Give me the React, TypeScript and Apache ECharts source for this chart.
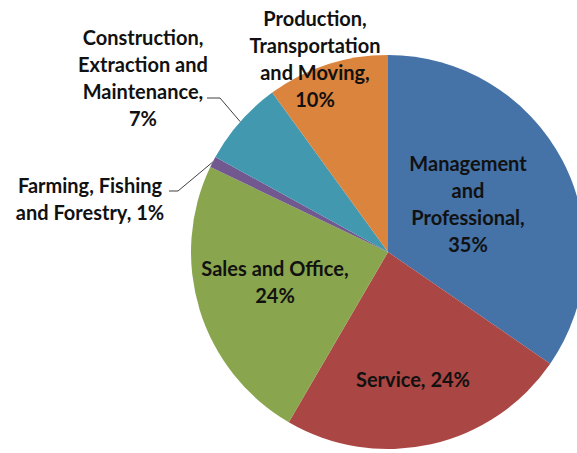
import React, { useEffect, useRef } from "react";
import * as echarts from "echarts";

const categories = [
  "Management\nand\nProfessional,",
  "Service,",
  "Sales and Office,",
  "Farming, Fishing\nand Forestry,",
  "Construction,\nExtraction and\nMaintenance,",
  "Production,\nTransportation\nand Moving,",
];
const values = [34.6, 23.8, 23.7, 0.9, 7.0, 10.0];
const colors = ["#4572A7", "#AA4643", "#89A54E", "#71588F", "#4198AF", "#DB843D"];
// separator placed before the percentage
const pctSep = ["\n", " ", "\n", " ", "\n", "\n"];
const labelCenters: [number, number][] = [
  [468, 203],
  [413, 379],
  [275, 281],
  [90, 198],
  [143, 77],
  [315, 58],
];
const leaderKnees: ([number, number] | null)[] = [null, null, null, [178, 191], [220, 98]];
const leaderEnds: (number | null)[] = [null, null, null, 169, 207];

export default function App() {
  const ref = useRef<HTMLDivElement>(null);
  useEffect(() => {
    if (!ref.current) return;
    const chart = echarts.init(ref.current, null, { renderer: "svg" });
    const cx = 388, cy = 252, r = 197;
    const total = values.reduce((a, b) => a + b, 0);
    const midAngles: number[] = [];
    let acc = 0;
    values.forEach((v) => {
      midAngles.push(((acc + v / 2) / total) * 2 * Math.PI);
      acc += v;
    });
    chart.setOption({
      animation: false,
      series: [
        {
          type: "pie",
          center: [cx, cy],
          radius: r,
          startAngle: 90,
          clockwise: true,
          avoidLabelOverlap: false,
          data: categories.map((c, i) => ({
            name: c,
            value: values[i],
            itemStyle: { color: colors[i] },
            labelLine: {
              show: !!leaderKnees[i],
              lineStyle: { color: "#404040", width: 1 },
              length: 10,
              length2: 10,
            },
          })),
          label: {
            show: true,
            position: "outside",
            formatter: (p: any) => p.name + pctSep[p.dataIndex] + Math.round(p.value) + "%",
            fontFamily: "Lato, 'Open Sans', sans-serif",
            fontWeight: "bold",
            fontSize: 20,
            lineHeight: 27,
            color: "#111",
            align: "center",
          },
          labelLayout: (p: any) => {
            const i = p.dataIndex;
            const [x, y] = labelCenters[i];
            const out: any = { x, y, align: "center", verticalAlign: "middle" };
            const knee = leaderKnees[i];
            if (knee) {
              const a = midAngles[i];
              const sx = cx + r * Math.sin(a);
              const sy = cy - r * Math.cos(a);
              out.labelLinePoints = [
                [sx, sy],
                knee,
                [leaderEnds[i], knee[1]],
              ];
            }
            return out;
          },
        },
      ],
    });
    return () => chart.dispose();
  }, []);
  return (
    <div
      ref={ref}
      style={{ position: "fixed", left: 0, top: 0, width: 577, height: 453, background: "#fff" }}
    />
  );
}
